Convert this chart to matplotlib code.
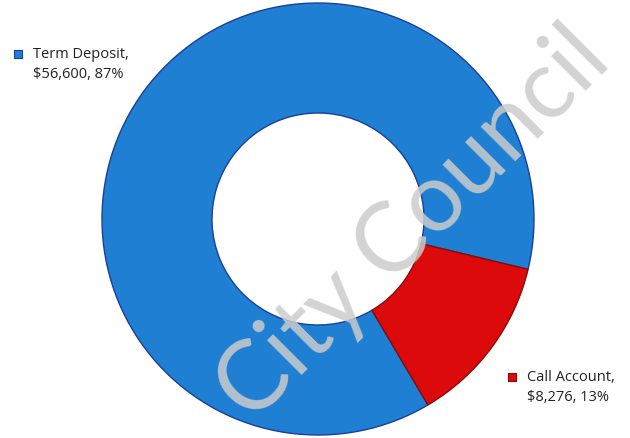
import matplotlib.pyplot as plt

# data
labels = ['Term Deposit', 'Call Account']
amounts = [56600, 8276]
percents = [87, 13]
colors = ['#1f7fd2', '#dc0a0a']
edges = ['#1a3f9a', '#8a0a0a']

plt.rcParams['font.family'] = ['Open Sans', 'DejaVu Sans']

fig = plt.figure(figsize=(6.3, 4.39), dpi=100)
ax = fig.add_axes([0, 0, 1, 1])

wedges, _ = ax.pie(amounts, colors=colors, startangle=-59.4, counterclock=False,
                   center=(318, 219), radius=216, frame=True,
                   wedgeprops=dict(width=110, linewidth=1.0))
for w, ec in zip(wedges, edges):
    w.set_edgecolor(ec)
ax.set_xlim(0, 630)
ax.set_ylim(0, 439)
ax.set_aspect('equal')
ax.axis('off')

# legend-like labels
label_pos = [(33, 392), (527, 69)]
marker_pos = [(18, 392), (512, 69)]
for i in range(len(labels)):
    x, y = label_pos[i]
    txt = f'{labels[i]},\n\\${amounts[i]:,}, {percents[i]}%'
    ax.text(x, y, txt, ha='left', va='top', fontsize=10.5, color='#222222',
            linespacing=1.45)
    mx, my = marker_pos[i]
    ax.scatter([mx], [my - 8], marker='s', s=40, color=colors[i],
               edgecolors=edges[i], linewidths=0.8, zorder=5)

# watermark
ax.text(414, 214, 'City Council', rotation=45, ha='center', va='center',
        fontsize=69, family=['Lato', 'DejaVu Sans'], color='#cccccc',
        alpha=0.85, zorder=10)

fig.savefig('out.png', dpi=100)
